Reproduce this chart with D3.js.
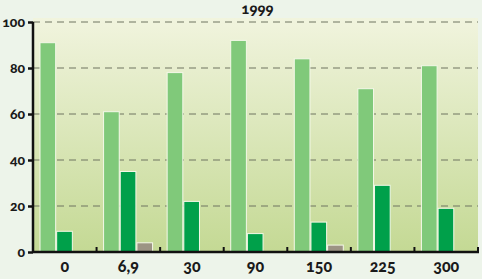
<!DOCTYPE html>
<html>
<head>
<meta charset="utf-8">
<script src="https://cdn.jsdelivr.net/npm/d3@7"></script>
<style>
body { margin: 0; background: #edf4ea; }
text { font-family: Lato, "Open Sans", sans-serif; font-weight: 900; font-variant-numeric: oldstyle-nums; fill: #1a1a1a; }
</style>
</head>
<body>
<script>
// данные диаграммы
var categories = ["0", "6,9", "30", "90", "150", "225", "300"];
var seriesNames = ["a", "b", "c"];
var valuesA = [91, 61, 78, 92, 84, 71, 81];
var valuesB = [9, 35, 22, 8, 13, 29, 19];
var valuesC = [0, 4, 0, 0, 3, 0, 0];
var yTicks = [0, 20, 40, 60, 80, 100];
var title = "1999";

var colors = ["#80c97a", "#00a04a", "#9c9484"];

var width = 482, height = 279;
var mLeft = 33, mRight = 478, mTop = 22, mBottom = 252;

var svg = d3.select("body").append("svg")
    .attr("width", width)
    .attr("height", height);

var defs = svg.append("defs");
var grad = defs.append("linearGradient")
    .attr("id", "bg").attr("x1", 0).attr("x2", 0).attr("y1", 0).attr("y2", 1);
grad.append("stop").attr("offset", "0%").attr("stop-color", "#f1f4de");
grad.append("stop").attr("offset", "100%").attr("stop-color", "#c4d994");

svg.append("rect")
    .attr("x", mLeft).attr("y", mTop - 4)
    .attr("width", mRight - mLeft).attr("height", mBottom - mTop + 4)
    .attr("fill", "url(#bg)");

var x0 = d3.scaleBand().domain(categories).range([mLeft, mRight]);
var x1 = d3.scaleBand().domain(seriesNames).range([7, 56]).paddingInner(0.06);
var y = d3.scaleLinear().domain([0, 100]).range([mBottom, mTop]);

// сетка
svg.append("g").selectAll("line")
    .data(yTicks.filter(function(d) { return d > 0; }))
    .enter().append("line")
    .attr("x1", mLeft).attr("x2", mRight)
    .attr("y1", function(d) { return y(d); })
    .attr("y2", function(d) { return y(d); })
    .attr("stroke", "#6f7560")
    .attr("stroke-width", 1)
    .attr("stroke-dasharray", "7,5");

var rows = categories.map(function(c, i) {
    return { cat: c, vals: [valuesA[i], valuesB[i], valuesC[i]] };
});

var groups = svg.append("g").selectAll("g")
    .data(rows).enter().append("g")
    .attr("transform", function(d) { return "translate(" + x0(d.cat) + ",0)"; });

groups.selectAll("rect")
    .data(function(d) {
        return d.vals.map(function(v, j) { return { key: seriesNames[j], v: v, j: j }; })
            .filter(function(e) { return e.v > 0; });
    })
    .enter().append("rect")
    .attr("x", function(d) { return x1(d.key); })
    .attr("width", x1.bandwidth())
    .attr("y", function(d) { return y(d.v); })
    .attr("height", function(d) { return mBottom - y(d.v); })
    .attr("fill", function(d) { return colors[d.j]; })
    .attr("stroke", "#f4f8e8")
    .attr("stroke-width", 1);

// ось y
var yAxis = svg.append("g")
    .attr("transform", "translate(" + mLeft + ",0)")
    .call(d3.axisLeft(y).tickValues(yTicks).tickSize(5).tickPadding(3));
yAxis.select(".domain").attr("stroke", "#111").attr("stroke-width", 2.5)
    .attr("d", "M0," + mTop + "V" + mBottom);
yAxis.selectAll(".tick line").attr("stroke", "#111").attr("stroke-width", 2.5);
yAxis.selectAll(".tick text").style("font-size", "14px").attr("fill", "#1a1a1a");

// ось x
var xAxis = svg.append("g")
    .attr("transform", "translate(0," + mBottom + ")");
xAxis.append("line")
    .attr("x1", mLeft).attr("x2", mRight + 1)
    .attr("stroke", "#111").attr("stroke-width", 2.5);
xAxis.selectAll(".sep")
    .data(categories.slice(1).concat(["end"]))
    .enter().append("line")
    .attr("class", "sep")
    .attr("x1", function(d) { return d == "end" ? mRight : x0(d); })
    .attr("x2", function(d) { return d == "end" ? mRight : x0(d); })
    .attr("y1", 0).attr("y2", -5)
    .attr("stroke", "#111").attr("stroke-width", 2);
xAxis.selectAll(".lab")
    .data(categories).enter().append("text")
    .attr("class", "lab")
    .attr("x", function(d) { return x0(d) + x0.bandwidth() / 2; })
    .attr("y", 20)
    .attr("text-anchor", "middle")
    .style("font-size", "16px")
    .text(function(d) { return d; });

svg.append("text")
    .attr("x", (mLeft + mRight) / 2 + 2)
    .attr("y", 14)
    .attr("text-anchor", "middle")
    .style("font-size", "15px")
    .text(title);
</script>
</body>
</html>
